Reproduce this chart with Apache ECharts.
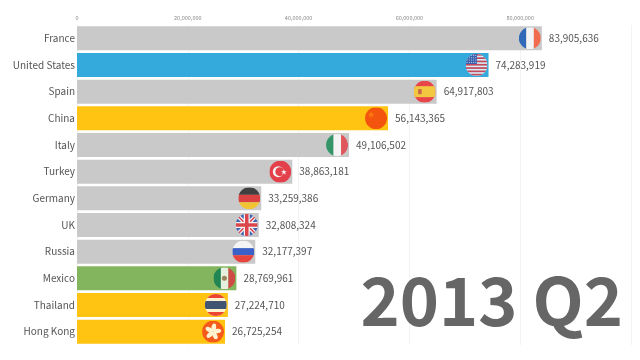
<!DOCTYPE html>
<html>
<head>
<meta charset="utf-8">
<style>
  html, body { margin: 0; padding: 0; background: #fff; }
  #main { width: 640px; height: 360px; }
</style>
</head>
<body>
<div id="main"></div>
<script src="https://cdn.jsdelivr.net/npm/echarts@6/dist/echarts.min.js"></script>
<script>
var countries = ['France', 'United States', 'Spain', 'China', 'Italy', 'Turkey', 'Germany', 'UK', 'Russia', 'Mexico', 'Thailand', 'Hong Kong']
var visitors = [83905636, 74283919, 64917803, 56143365, 49106502, 38863181, 33259386, 32808324, 32177397, 28769961, 27224710, 26725254]
var regions = ['other', 'america', 'other', 'asia', 'other', 'other', 'other', 'other', 'other', 'latin', 'asia', 'asia']
var period = '2013 Q2'

var regionColors = { other: '#c9c9c9', america: '#33aadb', asia: '#ffc312', latin: '#83b55e' }

// flags are little svg pictures, drawn in a 44x44 box and cut to a circle
function flag (body) {
  var svg = '<svg xmlns="http://www.w3.org/2000/svg" width="88" height="88" viewBox="0 0 44 44">' +
    '<defs><clipPath id="c"><circle cx="22" cy="22" r="22"/></clipPath></defs>' +
    '<g clip-path="url(#c)">' + body + '</g></svg>'
  return 'image://data:image/svg+xml;charset=utf-8,' + encodeURIComponent(svg)
}
function r (x, y, w, h, c) {
  return '<rect x="' + x + '" y="' + y + '" width="' + w + '" height="' + h + '" fill="' + c + '"/>'
}
function usFlag () {
  var s = r(0, 0, 44, 44, '#fff')
  for (var i = 0; i < 7; i++) s += r(0, i * 6.6, 44, 3.4, '#e8313c')
  s += r(0, 0, 23, 20, '#3f4fa3')
  for (var a = 0; a < 4; a++) {
    for (var b = 0; b < 5; b++) s += '<circle cx="' + (3 + b * 4.4) + '" cy="' + (3 + a * 4.6) + '" r="1" fill="#fff"/>'
  }
  return s
}
function hkFlag () {
  var s = r(0, 0, 44, 44, '#f5411c')
  for (var i = 0; i < 5; i++) {
    s += '<ellipse cx="22" cy="13.5" rx="4.6" ry="8" fill="#fff" transform="rotate(' + (i * 72 + 10) + ' 22 22)"/>'
  }
  return s
}
var flags = {
  France: flag(r(0, 0, 15, 44, '#0a52b4') + r(15, 0, 15, 44, '#fff') + r(30, 0, 14, 44, '#fb5430')),
  'United States': flag(usFlag()),
  Spain: flag(r(0, 0, 44, 44, '#f0252b') + r(0, 11, 44, 22, '#fdc81e') + r(9, 17, 7, 10, '#c8502a')),
  China: flag(r(0, 0, 44, 44, '#f23a0e') + '<polygon points="12,8 14,13 19,13 15,16 16.5,21 12,18 7.5,21 9,16 5,13 10,13" fill="#fb6a10"/>'),
  Italy: flag(r(0, 0, 15, 44, '#0f8a50') + r(15, 0, 15, 44, '#fff') + r(30, 0, 14, 44, '#e53a41')),
  Turkey: flag(r(0, 0, 44, 44, '#ea1f2c') + '<circle cx="18" cy="22" r="11" fill="#fff"/><circle cx="21" cy="22" r="9" fill="#ea1f2c"/>' +
    '<polygon points="29,17 30.5,21 35,21 31.5,23.5 33,28 29,25 25.5,28 27,23.5 23.5,21 27.5,21" fill="#fff"/>'),
  Germany: flag(r(0, 0, 44, 15, '#1d1d1d') + r(0, 15, 44, 15, '#e02020') + r(0, 30, 44, 14, '#fcc30f')),
  UK: flag(r(0, 0, 44, 44, '#1f4aa8') +
    '<path d="M0 0L44 44M44 0L0 44" stroke="#fff" stroke-width="8"/><path d="M0 0L44 44M44 0L0 44" stroke="#e0242c" stroke-width="3"/>' +
    r(16, 0, 12, 44, '#fff') + r(0, 16, 44, 12, '#fff') + r(18.5, 0, 7, 44, '#e0242c') + r(0, 18.5, 44, 7, '#e0242c')),
  Russia: flag(r(0, 0, 44, 15, '#fff') + r(0, 15, 44, 14, '#1846c8') + r(0, 29, 44, 15, '#f0241c')),
  Mexico: flag(r(0, 0, 15, 44, '#0b7a52') + r(15, 0, 15, 44, '#fff') + r(30, 0, 14, 44, '#e23140') + '<circle cx="22" cy="22" r="5" fill="#a0785a"/>'),
  Thailand: flag(r(0, 0, 44, 44, '#fff') + r(0, 0, 44, 8, '#e8283a') + r(0, 36, 44, 8, '#e8283a') + r(0, 14, 44, 16, '#123a8c')),
  'Hong Kong': flag(hkFlag())
}

var chart = echarts.init(document.getElementById('main'), null, { renderer: 'canvas' })
var font = '"Noto Sans CJK SC", "Noto Sans", sans-serif'

chart.setOption({
  animation: false,
  backgroundColor: '#fff',
  textStyle: { fontFamily: font },
  title: {
    text: period,
    right: 12,
    top: 262,
    textStyle: { fontFamily: font, fontSize: 66.5, fontWeight: 'bold', color: '#666' }
  },
  grid: { left: 77, right: 9, top: 25, bottom: 15 },
  xAxis: {
    type: 'value',
    position: 'top',
    min: 0,
    max: 100000000,
    interval: 20000000,
    axisLine: { show: false },
    axisTick: { show: false },
    axisLabel: {
      fontSize: 5.5,
      color: '#888',
      margin: 4,
      formatter: function (v) {
        return v > 80000000 ? '' : v.toLocaleString('en-US')
      }
    },
    splitLine: { lineStyle: { color: '#f3f3f3', width: 1 } }
  },
  yAxis: {
    type: 'category',
    inverse: true,
    data: countries,
    axisLine: { show: false },
    axisTick: { show: false },
    axisLabel: { fontSize: 10, color: '#555', margin: 2 }
  },
  series: [
    {
      type: 'bar',
      barWidth: 24,
      data: visitors.map(function (v, i) {
        return { value: v, itemStyle: { color: regionColors[regions[i]] } }
      }),
      label: {
        show: true,
        position: 'right',
        distance: 7,
        fontSize: 10,
        color: '#555',
        formatter: function (p) {
          return p.value.toLocaleString('en-US')
        }
      }
    },
    {
      type: 'scatter',
      silent: true,
      z: 5,
      data: visitors.map(function (v, i) {
        return { value: [v, countries[i]], symbol: flags[countries[i]] }
      }),
      symbolSize: 22,
      symbolOffset: [-12, 0]
    }
  ]
})
</script>
</body>
</html>
